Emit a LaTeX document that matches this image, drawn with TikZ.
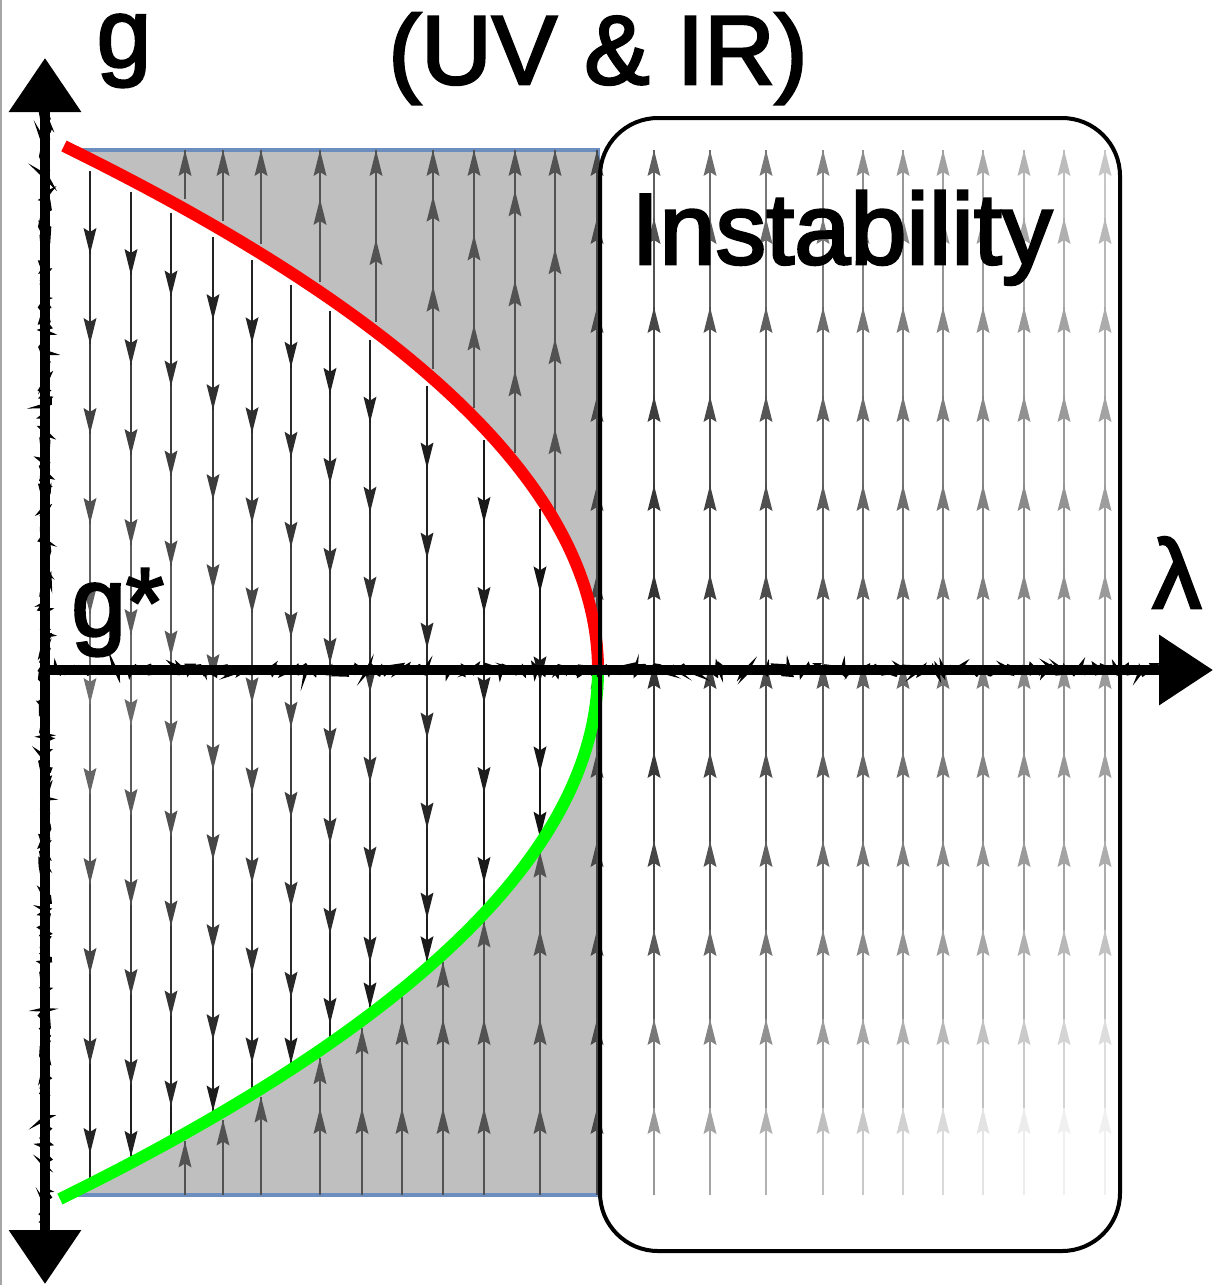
\documentclass[tikz,border=0pt]{standalone}
\usepackage{fontspec}
\setmainfont{Liberation Sans}
\newfontfamily\labelfont{Liberation Sans}[FakeBold=2.6]
\usetikzlibrary{arrows.meta,decorations.pathmorphing}
\definecolor{redc}{RGB}{255,0,0}
\definecolor{greenc}{RGB}{0,255,0}
\definecolor{shadec}{RGB}{191,191,191}
\definecolor{rectedge}{RGB}{108,142,191}
\colorlet{gline}{black!68}
\newcommand{\upA}[3]{\fill[#3] (#1,#2) -- ++(-6.5,26) -- ++(6.5,-4) -- ++(6.5,4) -- cycle;}
\newcommand{\dnA}[3]{\fill[#3] (#1,#2) -- ++(-6.5,-26) -- ++(6.5,4) -- ++(6.5,-4) -- cycle;}
\tikzset{
  sline/.style={line width=1.05pt},
  axisline/.style={line width=5.2pt, black},
  chalk/.style={line width=1.8pt, black, decorate,
    decoration={random steps, segment length=1.4pt, amplitude=2.6pt}},
  lbl/.style={inner sep=0pt, font=\labelfont\fontsize{49}{58}\selectfont, text=black},
  curve/.style={line width=6pt},
  instbox/.style={line width=2pt, black, rounded corners=29pt},
}
\begin{document}
\begin{tikzpicture}[x=0.5pt,y=-0.5pt]
\useasboundingbox (0,0) rectangle (1214,1285);
\fill[white] (0,0) rectangle (1214,1285);
\draw[black!35, line width=0.8pt] (1,0) -- (1,1285);

% shaded region (rectangle minus parabola interior)
\fill[shadec] (598,150) -- (598,1195)
  -- plot[variable=\t, domain=1195:670, samples=70] ({598-530*((\t-670)/525)*((\t-670)/525)},\t)
  -- plot[variable=\t, domain=670:150, samples=70] ({598-530*((670-\t)/522)*((670-\t)/522)},\t)
  -- cycle;
\draw[rectedge, line width=2pt] (70,150) -- (598,150) -- (598,1195) -- (70,1195);

% ---- stream lines: white region (downwards) ----
\foreach \x in {90,131,171,213,252,291,330,370,427,484,540}{
  \pgfmathsetmacro{\sq}{sqrt((598-\x)/530)}
  \pgfmathsetmacro{\yS}{670-522*\sq+12}
  \pgfmathsetmacro{\yE}{670+525*\sq-6}
  \pgfmathsetmacro{\xf}{1-0.8*(\x-90)/450}
  \foreach \k in {0,...,12}{
    \pgfmathsetmacro{\segA}{max(\yS,\yS+83+90*(\k-1))}
    \pgfmathsetmacro{\segB}{min(\yE,\yS+83+90*\k)}
    \ifdim\segA pt<\yE pt\relax
      \pgfmathsetmacro{\segM}{(\segA+\segB)/2}
      \pgfmathsetmacro{\pc}{100-45*\xf*(1-0.7*min(1,abs(\segM-670)/450))}
      \draw[sline,black!\pc] (\x,\segA) -- (\x,\segB);
      \ifdim\segB pt<\yE pt\relax \dnA{\x}{\segB}{black!\pc}\fi
    \fi
  }
  \pgfmathsetmacro{\Ln}{\yE-\yS-83}
  \pgfmathsetmacro{\gp}{\Ln<0 ? 1000 : mod(\Ln,90)}
  \pgfmathsetmacro{\pc}{100-45*\xf*(1-0.7*min(1,abs(\yE-670)/450))}
  \ifdim\gp pt>40pt\relax \dnA{\x}{\yE}{black!\pc}\fi
}

% ---- upper shaded region (upwards) ----
\foreach \x in {185,223,261,320,376,433,474,515,555}{
  \pgfmathsetmacro{\yS}{670-522*sqrt((598-\x)/530)-10}
  \draw[sline,gline] (\x,\yS) -- (\x,150);
  \foreach \k in {0,...,5}{
    \pgfmathsetmacro{\tp}{\yS-83-90*\k}
    \ifdim\tp pt>180pt\relax \upA{\x}{\tp}{gline}\fi
  }
  \upA{\x}{150}{gline}
}

% ---- lower shaded region (upwards) ----
\foreach \x in {185,223,261,320,362,402,443,484,540}{
  \pgfmathsetmacro{\yE}{670+525*sqrt((598-\x)/530)+8}
  \draw[sline,gline] (\x,1195) -- (\x,\yE);
  \foreach \k in {0,...,6}{
    \pgfmathsetmacro{\tp}{1108-89*\k}
    \pgfmathsetmacro{\df}{\tp-\yE}
    \ifdim\df pt>20pt\relax \upA{\x}{\tp}{gline}\fi
  }
  \pgfmathsetmacro{\Ln}{1108-\yE-20}
  \pgfmathsetmacro{\gp}{\Ln<0 ? 1000 : mod(\Ln,89)+20}
  \ifdim\gp pt>40pt\relax \upA{\x}{\yE}{gline}\fi
}

% ---- boundary line of shaded region ----
\draw[sline,black!72] (597,1195) -- (597,150);
\foreach \k in {0,...,10}{
  \pgfmathsetmacro{\tp}{1108-89*\k}
  \upA{597}{\tp}{black!72}
}
\upA{597}{150}{black!72}

% ---- instability box (upwards) ----
\foreach \x in {654,710,766,823,863,903,943,983,1024,1064,1105}{
  \pgfmathsetmacro{\xo}{0.2+0.4*(\x-654)/451}
  \foreach \k in {0,...,11}{
    \pgfmathsetmacro{\segA}{min(1195,1108-89*(\k-1))}
    \pgfmathsetmacro{\segB}{max(150,1108-89*\k)}
    \pgfmathsetmacro{\segM}{(\segA+\segB)/2}
    \pgfmathsetmacro{\vv}{min(0.94,\xo+(\segM>670 ? 0.33*((\segM-670)/438)*((\segM-670)/438) : 0.2*((670-\segM)/519)*((670-\segM)/519)))}
    \pgfmathsetmacro{\pc}{100-100*\vv}
    \draw[sline,black!\pc] (\x,\segA) -- (\x,\segB);
    \upA{\x}{\segB}{black!\pc}
  }
}

% ---- separatrix curves ----
\draw[redc, curve] plot[variable=\t, domain=146:671, samples=90] ({598-530*((670-\t)/522)*((670-\t)/522)},\t);
\draw[greenc, curve] plot[variable=\t, domain=669:1199, samples=90] ({598-530*((\t-670)/525)*((\t-670)/525)},\t);

% ---- instability box ----
\draw[instbox] (600,118) rectangle (1120,1251);

% ---- axes ----
\coordinate (ytop) at (45,58);
\coordinate (ybot) at (45,1284);
\coordinate (ytopc) at (45,108);
\coordinate (ybotc) at (45,1234);
\coordinate (xorg) at (42,670);
\coordinate (xend) at (1213,670);
\coordinate (xendc) at (1162,670);
\draw[axisline, {Triangle[length=27pt,width=35pt]}-{Triangle[length=27pt,width=35pt]}] (ybot) -- (ytop);
\draw[axisline, -{Triangle[length=27pt,width=34pt]}] (xorg) -- (xend);
\draw[chalk] (ybotc) -- (ytopc);
\draw[chalk] (xorg) -- (xendc);

% ---- labels ----
\node[lbl, anchor=base, text height=27pt] (glabel) at (124,67) {g};
\node[lbl, anchor=base] (title) at (598,84) {(UV \& IR)};
\node[lbl, anchor=base west] (gstar) at (71,636) {g*};
\node[lbl, anchor=base west] (lambda) at (1152,608) {λ};
\node[lbl, anchor=base west, font=\labelfont\fontsize{50.5}{60}\selectfont] (instab) at (631,264) {Instability};
\end{tikzpicture}
\end{document}
